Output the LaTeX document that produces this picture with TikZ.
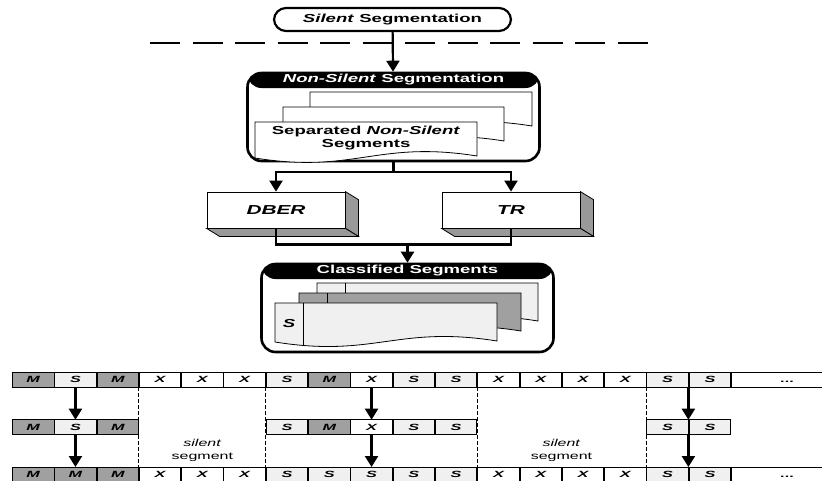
\documentclass[tikz,border=0pt]{standalone}
\usepackage{fontspec}
\setmainfont{Liberation Sans}[FakeStretch=1.6]
\newfontfamily\cellfont{Liberation Sans}[FakeStretch=1.8]
\usetikzlibrary{arrows.meta,matrix}
\definecolor{darkcell}{HTML}{A0A0A0}
\definecolor{lightcell}{HTML}{F0F0F0}
\definecolor{sidegray}{HTML}{999999}
\newcommand{\docpage}[6][draw]{%
  \path[#1] (#2,#3) -- (#2+#4,#3) -- (#2+#4,#3+#6)
    .. controls (#2+0.55*#4,#3+#6-16) and (#2+0.45*#4,#3+#5+16) .. (#2,#3+#5) -- cycle;}

\begin{document}
\begin{tikzpicture}[x=1pt,y=-1pt,
  lbl/.style={font=\fontsize{11.6}{13.5}\selectfont\bfseries},
  arr/.style={line width=2.2pt,-{Triangle[width=13pt,length=11pt]}},
  wire/.style={line width=2.2pt},
  pill/.style={draw,line width=2.2pt,rounded corners=12pt,minimum width=237pt,minimum height=23pt,inner sep=0pt,lbl},
  panel/.style={draw,line width=2.6pt,rounded corners=14pt,minimum width=292pt,minimum height=88pt,inner sep=0pt,
    path picture={\fill[black] (path picture bounding box.north west) rectangle ([yshift=-15pt]path picture bounding box.north east);}},
  headtext/.style={lbl,text=white,inner sep=0pt},
  pagewhite/.style={draw,fill=white,line width=0.8pt},
  pagelight/.style={draw,fill=lightcell,line width=0.8pt},
  pagedark/.style={draw,fill=darkcell,line width=0.8pt},
  box3d/.style={draw,fill=white,line width=0.8pt,minimum width=138pt,minimum height=36pt,font=\fontsize{13}{15}\selectfont\bfseries\itshape},
  side/.style={draw,fill=sidegray,line width=0.8pt},
  cell/.style={draw,fill=white,line width=0.8pt,minimum width=41.5pt,minimum height=14.5pt,inner sep=0pt,outer sep=0pt,
    text height=6.5pt,text depth=0pt,font=\cellfont\fontsize{9}{10}\selectfont\bfseries\itshape},
  segM/.style={fill=darkcell},
  segS/.style={fill=lightcell},
  more/.style={minimum width=111pt},
  gapline/.style={line width=0.8pt,dash pattern=on 4pt off 2pt},
  sepline/.style={line width=2.2pt,dash pattern=on 30pt off 12.5pt},
  gaplabel/.style={align=center,inner sep=1pt,font=\fontsize{10}{13}\selectfont}]
\useasboundingbox (0,0) rectangle (822,480);

\node[pill] (silent) at (392.5,19.5) {\textit{Silent} Segmentation};
\draw[sepline] (150,43) -- (648,43);

\node[panel] (nonsilent) at (393.5,117) {};
\node[headtext] (nonsilenthead) at ([yshift=-8pt]nonsilent.north) {\textit{Non-Silent} Segmentation};
\draw[arr] (silent) -- (nonsilent);
\docpage[pagewhite]{310}{92}{222}{36}{34}
\docpage[pagewhite]{283}{107}{221}{36}{34}
\docpage[pagewhite]{255}{122}{222}{36}{34}
\node[lbl,align=center] (separated) at (366,138) {Separated \textit{Non-Silent}\\Segments};

\node[box3d] (dber) at (276,210) {DBER};
\node[box3d] (tr) at (511,210) {TR};
\foreach \b in {dber,tr}{
  \path[side] (\b.north east) -- ++(13,8) -- ([shift={(13,8)}]\b.south east) -- (\b.south east) -- cycle;
  \path[side] (\b.south west) -- (\b.south east) -- ++(13,8) -- ([shift={(13,8)}]\b.south west) -- cycle;
}
\draw[wire] (nonsilent.south) -- ++(0,10) coordinate (split);
\draw[arr] (split) -| (dber.north);
\draw[arr] (split) -| (tr.north);

\node[panel] (classified) at (407.5,308) {};
\node[headtext] (classifiedhead) at ([yshift=-8pt]classified.north) {Classified Segments};
\draw[wire] (dber.south) -- ++(0,16) coordinate (join) -| (tr.south);
\draw[arr] (join -| classified.north) -- (classified.north);
\docpage[pagelight]{317}{283}{221}{39}{38}
\draw[line width=0.8pt] (345,283) -- (345,325);
\docpage[pagedark]{299}{293}{222}{39}{38}
\draw[line width=0.8pt] (327,293) -- (327,335);
\docpage[pagelight]{275}{303}{222}{39}{38}
\draw[line width=0.8pt] (303,303) -- (303,345);
\node[lbl,font=\fontsize{11.6}{13}\selectfont\bfseries\itshape] (tag) at (289,323) {S};

\matrix (strip) [matrix of nodes,anchor=north west,inner sep=0pt,outer sep=0pt,column sep=0pt,row sep=32pt,nodes={cell}] at (12,372) {
|[segM]| M & |[segS]| S & |[segM]| M & X & X & X & |[segS]| S & |[segM]| M & X & |[segS]| S & |[segS]| S & X & X & X & X & |[segS]| S & |[segS]| S & |[more]| \textup{...} \\
|[segM]| M & |[segS]| S & |[segM]| M & & & & |[segS]| S & |[segM]| M & X & |[segS]| S & |[segS]| S & & & & & |[segS]| S & |[segS]| S & \\
|[segM]| M & |[segM]| M & |[segM]| M & X & X & X & |[segS]| S & |[segS]| S & |[segS]| S & |[segS]| S & |[segS]| S & X & X & X & X & |[segS]| S & |[segS]| S & |[more]| \textup{...} \\
};

\foreach \c in {2,9}{
  \draw[arr] (strip-1-\c) -- (strip-2-\c);
  \draw[arr] (strip-2-\c) -- (strip-3-\c);
}
\draw[arr] (strip-1-16.south east) -- (strip-2-16.north east);
\draw[arr] (strip-2-16.south east) -- (strip-3-16.north east);
\foreach \c in {3,6,11,15}
  \draw[gapline] (strip-1-\c.south east) -- (strip-3-\c.north east);
\node[gaplabel,anchor=south] (gapone) at ([yshift=4pt]strip-3-5.north) {\textit{silent}\\segment};
\node[gaplabel,anchor=south] (gaptwo) at ([yshift=4pt]strip-3-13.north east) {\textit{silent}\\segment};
\end{tikzpicture}
\end{document}
